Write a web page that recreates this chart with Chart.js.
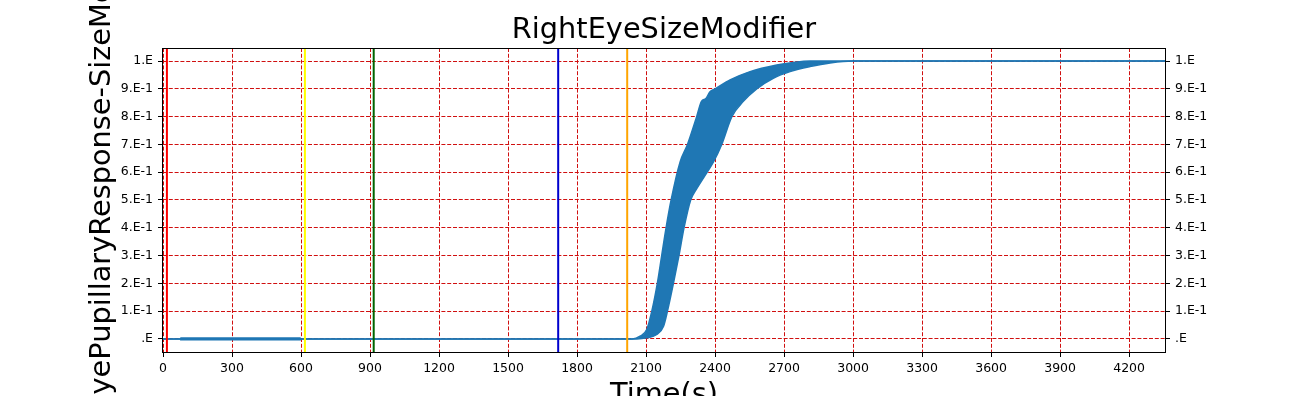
<!DOCTYPE html>
<html lang="en">
<head>
  <meta charset="UTF-8">
  <title>RightEyeSizeModifier</title>
  <script src="https://cdn.jsdelivr.net/npm/chart.js"></script>
  <style>
    * {
      margin: 0;
      padding: 0;
      box-sizing: border-box;
    }

    body {
      background: #fff;
      width: 1296px;
      height: 396px;
      overflow: hidden;
    }

    #wrap {
      width: 1296px;
      height: 396px;
    }
  </style>
</head>
<body>
  <div id="wrap">
    <canvas id="eyeChart" width="1296" height="396"></canvas>
  </div>

  <script>
    const chartTitle = "RightEyeSizeModifier";
    const xTitle = "Time(s)";
    const yTitle = "RightEyePupillaryResponse-SizeModifier";

    const xMin = 0;
    const xMax = 4356;
    const yMin = -0.047;
    const yMax = 1.047;

    const xTicks = [0, 300, 600, 900, 1200, 1500, 1800, 2100, 2400, 2700, 3000, 3300, 3600, 3900, 4200];
    const yTicks = [0, 0.1, 0.2, 0.3, 0.4, 0.5, 0.6, 0.7, 0.8, 0.9, 1.0];
    const yTickLabels = [".E", "1.E-1", "2.E-1", "3.E-1", "4.E-1", "5.E-1", "6.E-1", "7.E-1", "8.E-1", "9.E-1", "1.E"];

    // vertical event markers
    const eventTimes = [17, 617, 916, 1718, 2018];
    const eventColors = ["#ff0000", "#ffff00", "#006400", "#0000cd", "#ffa500"];

    // the signal oscillates fast, so it is kept as its upper and lower envelope
    const upperT = [0, 72, 78, 596, 602, 2040, 2074, 2103, 2125, 2149, 2168, 2187, 2209, 2248, 2280, 2320, 2341, 2360, 2378, 2400, 2465, 2552, 2668, 2740, 2813, 3000, 4356];
    const upperV = [0, 0, 0.003, 0.003, 0, 0, 0.01, 0.034, 0.1, 0.2, 0.3, 0.4, 0.5, 0.637, 0.7, 0.8, 0.855, 0.865, 0.89, 0.9, 0.932, 0.962, 0.986, 0.995, 1.0, 1.0, 1.0];

    const lowerT = [0, 72, 78, 596, 602, 2060, 2103, 2147, 2176, 2193, 2219, 2243, 2265, 2294, 2317, 2350, 2393, 2429, 2473, 2523, 2581, 2653, 2726, 2813, 2900, 3000, 4356];
    const lowerV = [0, 0, -0.003, -0.003, 0, 0, 0.004, 0.016, 0.046, 0.1, 0.2, 0.3, 0.4, 0.5, 0.536, 0.58, 0.637, 0.7, 0.8, 0.855, 0.9, 0.938, 0.962, 0.98, 0.993, 1.0, 1.0];

    const lineBlue = "#1f77b4";
    const gridRed = "rgb(208, 16, 16)";

    function toPoints(ts, vs) {
      return ts.map((t, i) => ({ x: t, y: vs[i] }));
    }

    const datasets = [];

    eventTimes.forEach((t, i) => {
      datasets.push({
        data: [{ x: t, y: yMin }, { x: t, y: yMax }],
        borderColor: eventColors[i],
        borderWidth: 2,
        pointRadius: 0,
        fill: false,
        order: 0
      });
    });

    datasets.push({
      data: toPoints(lowerT, lowerV),
      borderColor: lineBlue,
      borderWidth: 1.5,
      pointRadius: 0,
      fill: false,
      cubicInterpolationMode: "monotone",
      order: 1
    });

    datasets.push({
      data: toPoints(upperT, upperV),
      borderColor: lineBlue,
      backgroundColor: lineBlue,
      borderWidth: 1.5,
      pointRadius: 0,
      fill: "-1",
      cubicInterpolationMode: "monotone",
      order: 1
    });

    // titles and the plot frame
    const decorations = {
      id: "decorations",
      afterDraw(chart) {
        const ctx = chart.ctx;
        const area = chart.chartArea;
        const midX = (area.left + area.right) / 2;
        const midY = (area.top + area.bottom) / 2;

        ctx.save();
        ctx.strokeStyle = "#000";
        ctx.lineWidth = 1;
        ctx.strokeRect(area.left - 0.5, area.top + 0.5, area.right - area.left + 1, area.bottom - area.top);

        ctx.fillStyle = "#000";
        ctx.font = "28.8px 'DejaVu Sans'";
        ctx.textAlign = "center";
        ctx.textBaseline = "alphabetic";
        ctx.fillText(chartTitle, midX, 38);
        ctx.fillText(xTitle, midX, 403);

        ctx.translate(110, midY);
        ctx.rotate(-Math.PI / 2);
        ctx.fillText(yTitle, 0, 0);
        ctx.restore();
      }
    };

    const tickFont = { family: "DejaVu Sans", size: 12.5 };

    const ctx = document.getElementById("eyeChart").getContext("2d");
    window.eyeChart = new Chart(ctx, {
      type: "line",
      data: { datasets: datasets },
      plugins: [decorations],
      options: {
        responsive: false,
        animation: false,
        layout: { padding: { top: 48, left: 0, right: 0, bottom: 0 } },
        plugins: {
          legend: { display: false },
          tooltip: { enabled: false },
          title: { display: false }
        },
        scales: {
          x: {
            type: "linear",
            min: xMin,
            max: xMax,
            afterBuildTicks: axis => { axis.ticks = xTicks.map(v => ({ value: v })); },
            afterFit: axis => { axis.height = 44; },
            ticks: { color: "#000", font: tickFont, padding: 4, maxRotation: 0, autoSkip: false, callback: v => String(v) },
            grid: { color: gridRed, lineWidth: 1, tickColor: "#000", tickLength: 5, tickWidth: 1 },
            border: { display: false, dash: [4, 1.8] }
          },
          y: {
            type: "linear",
            position: "left",
            min: yMin,
            max: yMax,
            afterBuildTicks: axis => { axis.ticks = yTicks.map(v => ({ value: v })); },
            afterFit: axis => { axis.width = 163; },
            ticks: { color: "#000", font: tickFont, padding: 5, autoSkip: false, callback: (v, i) => yTickLabels[i] },
            grid: { color: gridRed, lineWidth: 1, tickColor: "#000", tickLength: 5, tickWidth: 1 },
            border: { display: false, dash: [4, 1.8] }
          },
          y2: {
            type: "linear",
            position: "right",
            min: yMin,
            max: yMax,
            afterBuildTicks: axis => { axis.ticks = yTicks.map(v => ({ value: v })); },
            afterFit: axis => { axis.width = 131; },
            ticks: { color: "#000", font: tickFont, padding: 5, autoSkip: false, callback: (v, i) => yTickLabels[i] },
            grid: { drawOnChartArea: false, tickColor: "#000", tickLength: 5, tickWidth: 1 },
            border: { display: false }
          }
        }
      }
    });
  </script>
</body>
</html>
